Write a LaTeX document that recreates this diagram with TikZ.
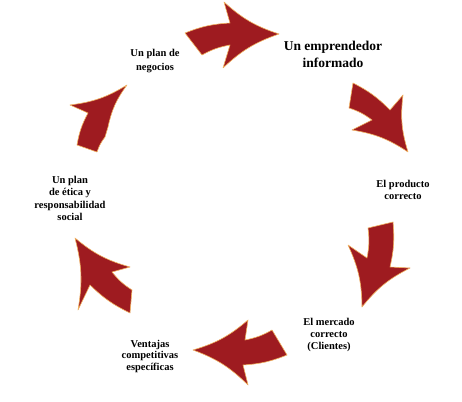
\documentclass[tikz,border=0pt]{standalone}
\usepackage{fontspec}
\setmainfont{Liberation Serif}
\definecolor{arrowred}{RGB}{158,27,32}
\definecolor{arrowedge}{RGB}{240,178,95}
\tikzset{
  swoosh/.style={fill=arrowred, draw=arrowedge, line width=0.6pt, line join=round},
  lbl/.style={align=center, font=\bfseries\fontsize{10.5}{12.5}\selectfont, inner sep=0pt},
}
% tail-outer, notch-outer, barb-outer, tip, barb-inner, notch-inner, tail-inner
\newcommand{\swooshArrow}[7]{%
  \path[swoosh] #1 to[bend left=9] #2 -- #3 to[bend right=12] #4 to[bend right=12] #5 -- #6 to[bend right=9] #7 -- cycle;}
\begin{document}
\begin{tikzpicture}[x=1pt,y=1pt]
\useasboundingbox (0,0) rectangle (462,401);
% arrows
\swooshArrow{(185,368)}{(230,378)}{(224,399)}{(279,367)}{(223,333)}{(230,356)}{(202,346)}
\swooshArrow{(353,318)}{(390,291)}{(403,306)}{(408,249)}{(352,271)}{(372,281)}{(349,293)}
\swooshArrow{(393,179)}{(390,134)}{(410,133)}{(362,94)}{(348,156)}{(367,143)}{(368,173)}
\swooshArrow{(287,46)}{(243,36)}{(248,16)}{(193,51)}{(248,81)}{(245,61)}{(272,71)}
\swooshArrow{(130,88)}{(90,116)}{(78,91)}{(75,163)}{(130,134)}{(112,129)}{(132,111)}
\swooshArrow{(77,256)}{(88,288)}{(70,296)}{(127,316)}{(108,274)}{(105,264)}{(97,249)}
% labels
\node[lbl, font=\bfseries\fontsize{13.5}{17}\selectfont] (emp) at (333,346.5) {Un emprendedor\\informado};
\node[lbl] (prod) at (403,211) {El producto\\correcto};
\node[lbl, font=\bfseries\fontsize{10.5}{12}\selectfont] (merc) at (329,66) {El mercado\\correcto\\(Clientes)};
\node[lbl, font=\bfseries\fontsize{10.5}{11.5}\selectfont] (vent) at (150,45) {Ventajas\\competitivas\\específicas};
\node[lbl, font=\bfseries\fontsize{10.5}{12.3}\selectfont] (etic) at (70,202.5) {Un plan\\de ética y\\responsabilidad\\social};
\node[lbl, font=\bfseries\fontsize{10.5}{14}\selectfont] (neg) at (155,339.5) {Un plan de\\negocios};
\end{tikzpicture}
\end{document}
